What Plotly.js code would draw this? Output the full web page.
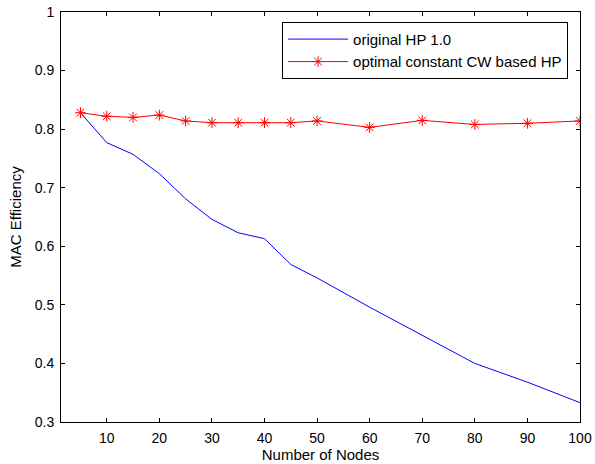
<!DOCTYPE html>
<html>
<head>
<meta charset="utf-8">
<script src="https://cdn.plot.ly/plotly-3.0.1.min.js"></script>
<style>html,body{margin:0;padding:0;background:#fff;}#chart{width:595px;height:464px;}</style>
</head>
<body>
<div id="chart"></div>
<script>
var nodes = [5, 10, 15, 20, 25, 30, 35, 40, 45, 50, 60, 70, 80, 90, 100];
var originalHP = [0.828, 0.777, 0.757, 0.724, 0.681, 0.646, 0.623, 0.613, 0.569, 0.546, 0.496, 0.448, 0.400, 0.368, 0.333];
var optimalHP = [0.828, 0.822, 0.820, 0.824, 0.814, 0.811, 0.811, 0.811, 0.811, 0.814, 0.803, 0.815, 0.808, 0.810, 0.814];
var xTicks = [10, 20, 30, 40, 50, 60, 70, 80, 90, 100];
var yTicks = [0.3, 0.4, 0.5, 0.6, 0.7, 0.8, 0.9, 1];
var yTickText = ['0.3', '0.4', '0.5', '0.6', '0.7', '0.8', '0.9', '1'];

var fam = 'Liberation Sans, Arial, sans-serif';
var tickFont = {family: fam, size: 14, color: '#000'};
var titleFont = {family: fam, size: 15, color: '#000'};

var traces = [
  {x: nodes, y: originalHP, type: 'scatter', mode: 'lines', name: 'original HP 1.0',
   line: {color: '#0000ff', width: 1}},
  {x: nodes, y: optimalHP, type: 'scatter', mode: 'lines+markers', name: 'optimal constant CW based HP',
   line: {color: '#ff0000', width: 1},
   marker: {symbol: 'asterisk-open', size: 9, color: '#ff0000', line: {color: '#ff0000', width: 1}}}
];

var axisCommon = {
  showgrid: false, zeroline: false, showline: true, linecolor: '#000', linewidth: 1,
  mirror: 'allticks', ticks: 'inside', ticklen: 4, tickcolor: '#000', tickwidth: 1,
  tickfont: tickFont
};

var layout = {
  width: 595, height: 464,
  margin: {l: 61, r: 15, t: 12, b: 42},
  paper_bgcolor: '#fff', plot_bgcolor: '#fff',
  font: tickFont,
  xaxis: Object.assign({}, axisCommon, {
    range: [1.3, 100], tickvals: xTicks, ticklabelstandoff: 3,
    title: {text: 'Number of Nodes', font: titleFont, standoff: 3}
  }),
  yaxis: Object.assign({}, axisCommon, {
    range: [0.3, 1], tickvals: yTicks, ticktext: yTickText, ticklabelstandoff: 3,
    title: {text: 'MAC Efficiency', font: titleFont, standoff: 9}
  }),
  legend: {
    x: 0.977, y: 0.976, xanchor: 'right', yanchor: 'top',
    bordercolor: '#000', borderwidth: 1, bgcolor: '#fff',
    font: titleFont, itemwidth: 60, tracegroupgap: 0
  },
  showlegend: true
};

Plotly.newPlot('chart', traces, layout, {displayModeBar: false, staticPlot: true});
</script>
</body>
</html>
